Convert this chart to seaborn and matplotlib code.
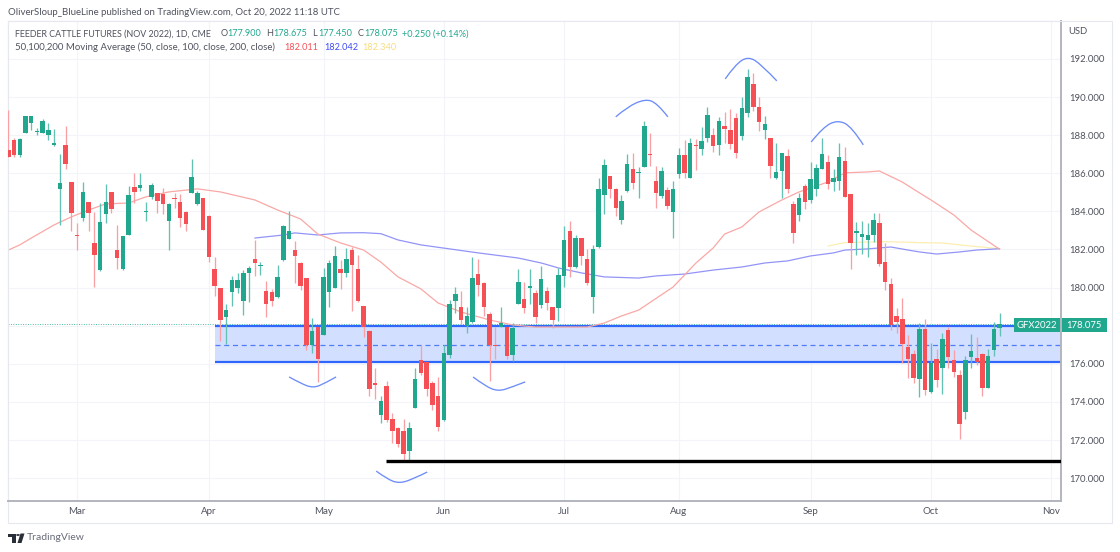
import numpy as np
import pandas as pd
import matplotlib
matplotlib.use("Agg")
import matplotlib.pyplot as plt
import seaborn as sns
from matplotlib.patches import Rectangle, Polygon, Circle, PathPatch
from matplotlib.path import Path

# Daily OHLC
opens = [
    187.22, 187.77, 186.98, 188.12, 188.62, 188.15, 188.12, 188.01, 187.49, 185.18,
    187.47, 185.56, 182.76, 183.64, 184.50, 182.34, 180.94, 183.87, 185.00, 181.97,
    180.96, 182.76, 185.27, 185.25, 183.95, 184.77, 184.98, 184.91, 183.48, 184.70,
    184.50, 183.97, 184.98, 184.37, 184.72, 183.78, 180.98, 179.99, 178.46, 179.79,
    179.99, 179.32, 180.75, 181.50, 181.15, 179.81, 179.75, 179.49, 181.45, 182.57,
    181.98, 181.28, 180.51, 176.97, 177.93, 177.51, 179.79, 179.99, 180.98, 180.79,
    181.98, 180.96, 179.04, 177.74, 174.97, 173.29, 174.81, 173.08, 172.61, 172.47,
    171.45, 173.69, 176.20, 176.11, 174.97, 174.30, 173.03, 176.46, 179.29, 178.99,
    177.98, 178.17, 180.73, 180.24, 178.59, 176.98, 177.95, 177.91, 176.46, 179.15,
    179.42, 179.99, 179.70, 179.08, 179.82, 178.99, 178.91, 180.62, 182.95, 181.06,
    182.58, 181.48, 179.49, 182.13, 184.84, 185.85, 185.19, 183.56, 185.07, 186.21,
    186.00, 186.35, 187.01, 185.59, 184.81, 185.12, 183.97, 185.96, 186.96, 185.77,
    187.50, 187.27, 187.85, 188.01, 187.50, 188.48, 188.27, 188.88, 187.96, 189.18,
    190.70, 189.50, 188.27, 187.87, 185.75, 186.13, 186.92, 184.39, 183.79, 185.33,
    184.60, 185.17, 186.24, 186.59, 185.56, 185.58, 186.66, 184.89, 182.88, 182.67,
    182.51, 182.76, 183.39, 181.35, 180.19, 178.49, 178.35, 176.88, 176.50, 175.20,
    177.81, 174.50, 176.25, 175.80, 177.78, 176.20, 175.41, 173.47, 176.36, 176.29,
    176.50, 174.73, 176.71, 177.90,
]
highs = [
    189.32, 187.87, 187.87, 189.03, 189.01, 188.40, 188.87, 188.62, 188.34, 187.00,
    188.47, 185.56, 183.37, 185.56, 184.50, 183.97, 184.42, 185.46, 185.00, 183.27,
    182.71, 185.33, 186.00, 186.00, 184.50, 185.47, 184.98, 185.21, 184.42, 184.98,
    184.90, 184.04, 186.75, 185.09, 184.72, 183.79, 181.63, 179.99, 179.14, 180.61,
    180.75, 180.93, 181.14, 182.50, 181.35, 180.35, 179.93, 181.19, 183.29, 184.02,
    182.43, 181.36, 180.51, 178.41, 177.95, 181.01, 181.45, 182.20, 181.45, 182.06,
    182.12, 181.71, 179.04, 177.77, 175.77, 174.30, 175.11, 173.40, 172.70, 173.10,
    172.97, 175.77, 176.98, 176.11, 175.11, 175.32, 176.98, 179.35, 180.01, 179.82,
    178.99, 181.59, 181.50, 180.29, 178.71, 177.91, 178.99, 177.91, 178.12, 180.97,
    180.27, 180.97, 179.87, 181.13, 180.05, 178.99, 181.01, 183.23, 183.49, 182.76,
    182.58, 182.00, 182.23, 185.73, 186.75, 185.85, 185.21, 184.86, 186.99, 187.05,
    186.31, 188.76, 188.13, 186.38, 186.35, 185.26, 185.59, 187.34, 187.75, 187.83,
    187.78, 188.41, 189.50, 188.36, 188.97, 189.20, 189.37, 189.18, 190.02, 191.45,
    191.28, 190.00, 189.01, 187.87, 187.61, 187.08, 187.27, 184.56, 184.98, 185.44,
    186.57, 186.47, 187.85, 186.96, 186.20, 187.61, 187.38, 184.89, 183.44, 183.49,
    183.37, 183.90, 183.90, 182.33, 180.49, 178.91, 179.44, 177.51, 176.73, 178.16,
    178.34, 177.11, 176.78, 177.60, 177.92, 176.73, 175.68, 176.41, 177.55, 177.39,
    176.59, 176.78, 178.21, 178.675,
]
lows = [
    186.87, 186.87, 186.84, 188.10, 188.27, 188.01, 188.10, 187.75, 187.45, 183.29,
    186.21, 182.99, 181.97, 183.52, 182.99, 180.02, 180.89, 183.37, 183.93, 180.99,
    180.94, 182.75, 184.42, 185.09, 183.50, 184.63, 183.90, 183.87, 181.97, 184.18,
    183.20, 182.99, 184.95, 184.34, 183.03, 181.36, 179.56, 177.20, 177.04, 179.04,
    179.74, 178.56, 179.26, 180.61, 180.66, 178.44, 179.04, 179.46, 181.42, 182.54,
    180.26, 179.88, 176.73, 176.59, 175.05, 177.50, 179.00, 179.96, 179.91, 180.58,
    178.79, 179.26, 177.43, 174.32, 174.13, 172.90, 172.92, 171.82, 171.65, 170.84,
    170.95, 173.68, 175.41, 174.30, 173.60, 172.47, 173.01, 176.28, 178.68, 178.09,
    177.60, 178.12, 179.57, 178.50, 175.09, 176.23, 177.91, 176.23, 176.16, 179.12,
    178.65, 179.12, 178.12, 178.91, 178.82, 177.86, 178.26, 180.05, 180.57, 181.01,
    181.18, 180.13, 178.65, 182.06, 183.86, 184.68, 183.76, 183.32, 185.03, 185.17,
    184.68, 186.31, 186.38, 184.19, 184.72, 184.10, 182.58, 185.77, 185.77, 185.75,
    186.17, 186.96, 187.66, 187.13, 186.96, 187.57, 187.26, 186.82, 187.75, 188.97,
    189.29, 188.24, 187.81, 185.77, 185.70, 184.68, 184.98, 182.36, 183.49, 184.14,
    184.46, 184.80, 186.20, 185.17, 185.07, 185.12, 184.74, 180.97, 181.72, 181.76,
    181.62, 182.41, 181.12, 179.88, 177.78, 177.60, 176.03, 175.24, 175.01, 174.24,
    174.38, 174.49, 174.77, 174.42, 175.76, 175.33, 172.07, 173.12, 175.76, 175.94,
    174.33, 174.71, 176.41, 177.45,
]
closes = [
    186.87, 186.95, 187.80, 189.01, 189.01, 188.24, 188.76, 188.27, 187.57, 185.49,
    186.51, 183.93, 182.69, 185.02, 183.90, 181.73, 183.45, 184.50, 184.11, 181.55,
    182.69, 184.86, 185.04, 185.37, 184.00, 185.39, 184.55, 184.37, 184.39, 184.63,
    183.67, 183.36, 185.79, 184.98, 183.04, 181.61, 180.08, 178.28, 178.83, 180.40,
    180.38, 180.77, 181.01, 181.29, 181.19, 179.12, 179.28, 180.56, 183.22, 182.99,
    181.68, 180.09, 176.99, 177.71, 176.27, 180.54, 181.28, 181.68, 180.77, 181.50,
    181.21, 179.30, 177.92, 174.67, 174.87, 174.04, 173.05, 172.48, 171.79, 171.28,
    172.63, 175.21, 175.51, 174.66, 173.85, 172.70, 176.55, 179.12, 179.64, 178.31,
    178.50, 180.50, 180.13, 178.98, 176.98, 176.93, 178.12, 176.42, 177.89, 180.29,
    178.93, 180.06, 178.45, 180.43, 179.19, 178.31, 180.66, 182.50, 181.06, 182.58,
    181.66, 180.22, 182.00, 185.19, 186.41, 185.17, 184.19, 184.52, 186.49, 185.47,
    186.07, 188.50, 186.94, 184.96, 186.13, 184.28, 185.19, 186.96, 186.03, 187.60,
    187.43, 187.68, 189.07, 187.43, 188.76, 188.34, 187.53, 187.08, 189.41, 191.05,
    189.50, 188.69, 188.60, 186.40, 186.07, 187.06, 185.17, 182.86, 184.68, 184.49,
    185.70, 186.26, 187.03, 185.44, 185.75, 186.84, 184.77, 182.34, 182.99, 182.79,
    182.74, 183.53, 181.26, 180.31, 178.02, 178.21, 177.02, 176.25, 175.24, 177.81,
    174.61, 176.03, 175.17, 177.30, 176.38, 175.57, 172.82, 176.20, 176.67, 176.08,
    174.73, 176.39, 177.81, 178.075,
]

# Moving averages as (bar, price) points
ma50_bars = [0, 2, 4, 8, 11, 14, 17, 21, 24, 28, 33, 37, 43, 47, 51, 54, 58, 62, 65, 68, 72,
             75, 79, 84, 88, 92, 101, 104, 107, 110, 116, 120, 123, 125, 128, 131, 135, 138,
             143, 146, 150, 152, 156, 159, 161, 165, 168, 173]
ma50_vals = [181.97, 182.24, 182.60, 183.29, 183.71, 184.07, 184.39, 184.44, 184.76, 185.02,
             185.18, 185.02, 184.60, 184.07, 183.60, 182.81, 182.34, 181.97, 181.34, 180.56,
             179.93, 179.19, 178.72, 178.30, 178.04, 177.93, 177.93, 178.14, 178.51, 178.82,
             180.03, 181.29, 182.08, 182.81, 183.18, 183.97, 184.60, 185.02, 185.54, 186.02,
             186.07, 186.12, 185.54, 184.97, 184.60, 183.81, 183.02, 182.01]
ma100_bars = [43, 48, 50, 54, 58, 62, 65, 68, 72, 82, 89, 93, 96, 100, 104, 110, 113, 118, 123,
              128, 132, 136, 140, 144, 146, 150, 154, 157, 159, 162, 166, 169, 173]
ma100_vals = [182.60, 182.76, 182.87, 182.76, 182.87, 182.88, 182.83, 182.50, 182.24, 181.82,
              181.55, 181.29, 181.03, 180.77, 180.56, 180.50, 180.61, 180.71, 180.92, 181.08,
              181.29, 181.40, 181.66, 181.82, 181.97, 182.03, 182.13, 181.97, 181.87, 181.76,
              181.87, 181.97, 182.04]
ma200_bars = [143, 146, 153, 159, 163, 168, 173]
ma200_vals = [182.18, 182.36, 182.41, 182.36, 182.34, 182.18, 182.04]

# Hand-drawn arcs on the chart
arcs = [
    ([106.0, 108.0, 111.1, 113.2, 115.1], [188.96, 189.48, 189.90, 189.69, 188.96]),
    ([125.1, 126.8, 129.1, 131.5, 134.1], [190.95, 191.68, 192.15, 191.68, 190.85]),
    ([140.1, 142.2, 144.8, 147.2, 149.2], [187.64, 188.43, 188.80, 188.43, 187.49]),
    ([49.0, 50.9, 53.2, 55.3, 57.2], [175.31, 174.99, 174.72, 174.99, 175.31]),
    ([81.1, 83.2, 85.5, 87.9, 90.2], [175.31, 174.83, 174.55, 174.78, 175.05]),
    ([64.2, 66.1, 68.2, 70.6, 73.1], [170.37, 169.95, 169.72, 169.95, 170.32]),
]

zone_top = 177.96
zone_mid = 177.01
zone_bottom = 176.09
zone_start = 36.05
support_level = 170.92
support_start = 65.9
last_price = 178.075

price_ticks = list(range(170, 193, 2))
month_bars = [12, 35, 55, 76, 97, 117, 140, 161, 182]
month_labels = ["Mar", "Apr", "May", "Jun", "Jul", "Aug", "Sep", "Oct", "Nov"]

GREEN = "#22a78f"
RED = "#f55056"
GREEN_WICK = "#62c1b2"
RED_WICK = "#f9a0a4"
TEXT = "#50535e"
GRID = "#f2f4fa"
W, H = 1120, 552


def px(x, y):
    return x / W, 1 - y / H


def put_text(x, y, s, color=TEXT, size=6.9, ha="left"):
    fx, fy = px(x, y)
    fig.text(fx, fy, s, color=color, fontsize=size, ha=ha, va="center")


def put_rect(x0, y0, x1, y1, **kw):
    fx, fy = px(x0, y1)
    fig.add_artist(Rectangle((fx, fy), (x1 - x0) / W, (y1 - y0) / H,
                             transform=fig.transFigure, **kw))


sns.set_theme(style="white")
plt.rcParams['font.family'] = ['Lato', 'DejaVu Sans']

df = pd.DataFrame({"bar": np.arange(len(opens)), "open": opens, "high": highs,
                   "low": lows, "close": closes})
df["up"] = df["close"] >= df["open"]
df["body_low"] = df[["open", "close"]].min(axis=1)
df["body_h"] = (df["open"] - df["close"]).abs()

fig = plt.figure(figsize=(W / 100, H / 100), dpi=100, facecolor="white")
ax = fig.add_axes([8 / W, 1 - 501 / H, (1061 - 8) / W, (501 - 21) / H])
ax.set_xlim(-0.06, 183.7)
ax.set_ylim(168.80, 193.99)

# Blue zone
ax.fill_between([zone_start, 183.7], zone_bottom, zone_top, color="#d3dffe", lw=0, zorder=1)
ax.hlines([zone_top, zone_bottom], zone_start, 183.7, color="#2f66fb", lw=1.6, zorder=1.5)
ax.hlines(zone_mid, zone_start, 183.7, color="#4f7df7", lw=0.9, linestyles=(0, (4, 3)), zorder=1.5)

# Last price line
ax.axhline(last_price, color=GREEN, lw=0.7, ls=(0, (1, 1.5)), alpha=0.8, zorder=1.6)

# Moving averages
ma_long = pd.concat([
    pd.DataFrame({"bar": ma50_bars, "price": ma50_vals, "ma": "50"}),
    pd.DataFrame({"bar": ma100_bars, "price": ma100_vals, "ma": "100"}),
    pd.DataFrame({"bar": ma200_bars, "price": ma200_vals, "ma": "200"}),
])
sns.lineplot(data=ma_long, x="bar", y="price", hue="ma", legend=False, ax=ax, linewidth=0.9,
             palette={"50": "#f9a8a6", "100": "#9394f7", "200": "#fdeeb0"},
             hue_order=["200", "100", "50"], zorder=2, estimator=None, sort=False)

# Candles
ax.vlines(df["bar"], df["low"], df["high"],
          colors=np.where(df["up"], GREEN_WICK, RED_WICK), lw=0.95, zorder=3)
ax.bar(df["bar"], df["body_h"], bottom=df["body_low"], width=0.78,
       color=np.where(df["up"], GREEN, RED), linewidth=0, zorder=3.2)

# Support line
ax.hlines(support_level, support_start, 183.7, color="black", lw=2.4, zorder=4)

# Arcs, smoothed through their points
for xs, ys in arcs:
    p = list(zip(xs, ys))
    verts = [p[0], p[1], tuple(np.mean(p[1:3], axis=0)), p[2], tuple(np.mean(p[2:4], axis=0)), p[3], p[4]]
    codes = [Path.MOVETO] + [Path.CURVE3] * 6
    ax.add_patch(PathPatch(Path(verts, codes), fill=False, edgecolor="#6c8cf8", lw=0.95, zorder=4))

# Axes styling; the 178 label sits under the price tag in the reference
ax.set_xlabel("")
ax.set_ylabel("")
ax.set_yticks(price_ticks)
ax.set_yticklabels(["" if p == 178 else f"{p:.3f}" for p in price_ticks], color=TEXT, fontsize=6.8)
ax.yaxis.tick_right()
ax.set_xticks(month_bars)
ax.set_xticklabels(month_labels, color=TEXT, fontsize=7.0)
ax.tick_params(axis="both", length=0)
ax.tick_params(axis="y", pad=6)
ax.tick_params(axis="x", pad=4)
ax.grid(True, color=GRID, linewidth=0.8)
ax.set_axisbelow(True)
for side in ["top", "left"]:
    ax.spines[side].set_color("#e6e8ef")
    ax.spines[side].set_linewidth(0.8)
for side in ["right", "bottom"]:
    ax.spines[side].set_color("#b2b5be")
    ax.spines[side].set_linewidth(1.4)

# Outer frame
put_rect(8, 21, 1112, 523, fill=False, edgecolor="#e6e8ef", linewidth=0.8, zorder=0)

# Header text
put_text(8, 12.5, "OliverSloup_BlueLine published on TradingView.com, Oct 20, 2022 11:18 UTC", size=6.95)
put_text(15, 34, "FEEDER CATTLE FUTURES (NOV 2022), 1D, CME", size=6.4)
for x, lab, val in [(220.5, "O", "177.900"), (266.5, "H", "178.675"), (312, "L", "177.450"), (358, "C", "178.075")]:
    put_text(x, 34, lab, size=6.6)
    put_text(x + 6.5, 34, val, color=GREEN, size=6.6)
put_text(402, 34, "+0.250 (+0.14%)", color=GREEN, size=6.6)
put_text(15, 47, "50,100,200 Moving Average (50, close, 100, close, 200, close)", size=6.95)
put_text(284, 47, "182.011", color="#f55056", size=6.6)
put_text(324, 47, "182.042", color="#3f4cf5", size=6.6)
put_text(362, 47, "182.340", color="#f8dc80", size=6.6)
put_text(1068, 32, "USD", size=6.8)

# Price label
put_rect(1014, 318, 1060, 332, facecolor=GREEN, edgecolor="none", zorder=5)
put_rect(1061.5, 318, 1107, 332, facecolor=GREEN, edgecolor="none", zorder=5)
fig.text(*px(1037, 325), "GFX2022", color="white", fontsize=6.8, ha="center", va="center", zorder=6)
fig.text(*px(1084, 325), "178.075", color="white", fontsize=6.8, ha="center", va="center", zorder=6)

# TradingView logo
ink = "#2a2e39"
put_rect(8, 533.5, 15.5, 536.5, facecolor=ink, edgecolor="none")
put_rect(11.5, 533.5, 15.5, 543, facecolor=ink, edgecolor="none")
fig.add_artist(Circle(px(18, 535), 1.9 / W, transform=fig.transFigure, facecolor=ink, edgecolor="none"))
fig.add_artist(Polygon([px(17.5, 543), px(21.5, 543), px(24.5, 533.5), px(20.5, 533.5)],
                       closed=True, transform=fig.transFigure, facecolor=ink, edgecolor="none"))
put_text(27, 538, "TradingView", color="#6a6d78", size=7.5)

fig.savefig("out.png", dpi=100, facecolor="white")
